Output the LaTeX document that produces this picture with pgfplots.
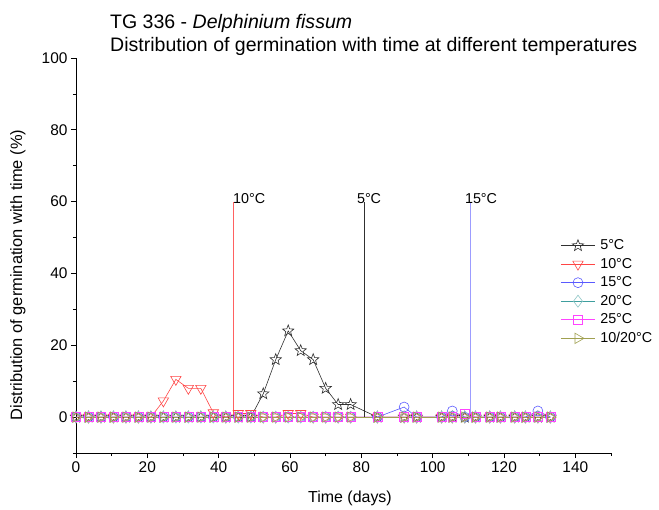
\documentclass[border=0pt]{standalone}
\usepackage{fontspec}
\setmainfont{Liberation Sans}
\usepackage{pgfplots}
\usepackage{pgfplotstable}
\pgfplotsset{compat=1.18}

\definecolor{c5}{HTML}{303030}
\definecolor{c10}{HTML}{FF4545}
\definecolor{c15}{HTML}{5A5AFF}
\definecolor{c20}{HTML}{3E9E9E}
\definecolor{c25}{HTML}{FF44FF}
\definecolor{c1020}{HTML}{A0A050}

% open five-pointed star
\pgfdeclareplotmark{ostar}{%
  \pgfpathmoveto{\pgfpointpolar{90}{\pgfplotmarksize}}%
  \pgfpathlineto{\pgfpointpolar{126}{0.42\pgfplotmarksize}}%
  \pgfpathlineto{\pgfpointpolar{162}{\pgfplotmarksize}}%
  \pgfpathlineto{\pgfpointpolar{198}{0.42\pgfplotmarksize}}%
  \pgfpathlineto{\pgfpointpolar{234}{\pgfplotmarksize}}%
  \pgfpathlineto{\pgfpointpolar{270}{0.42\pgfplotmarksize}}%
  \pgfpathlineto{\pgfpointpolar{306}{\pgfplotmarksize}}%
  \pgfpathlineto{\pgfpointpolar{342}{0.42\pgfplotmarksize}}%
  \pgfpathlineto{\pgfpointpolar{18}{\pgfplotmarksize}}%
  \pgfpathlineto{\pgfpointpolar{54}{0.42\pgfplotmarksize}}%
  \pgfpathclose
  \pgfusepathqstroke}

% days, then % germination per series
\pgfplotstableread{
x     s5    s10   s15   s20  s25  s1020
0     0     0     0     0    0    0
3.5   0     0     0     0    0    0
7     0     0     0     0    0    0
10.5  0     0     0     0    0    0
14    0     0     0     0    0    0
17.5  0     0     0     0    0    0
21    0     0     0     0    0    0
24.5  0     4.5   0     0    0    0
28    0     10.5  0     0    0    0
31.5  0     8     0     0    0    0
35    0     8     0     0    0    0
38.5  0     1.2   0     0    0    0
42    0     0     0     0    0    0
45.5  0     1     0     0    0    0
49    0     1     0     0    0    0
52.5  6.5   0     0     0    0    0
56    16    0     0     0    0    0
59.5  24    1     0     0    0    0
63    18.5  1     0     0    0    0
66.5  16    0     0     0    0    0
70    8     0     0     0    0    0
73.5  3.5   0     0     0    0    0
77    3.5   0     0     0    0    0
84.5  0     0     0     0    0    0
92    0     0     2.8   0    0    0
95.5  0     0     0     0    0    0
102.5 0     0     0     0    0    0
105.5 0     0     1.7   0    0    0
109   0     0     0     0    1    0
112   0     0     0     0    0    0
116   0     0     0     0    0    0
119   0     0     0     0    0    0
123   0     0     0     0    0    0
126   0     0     0     0    0    0
129.5 0     0     1.7   0    0    0
133   0     0     0     0    0    0
}\germ

\begin{document}
\begin{tikzpicture}
\path[use as bounding box] (-76bp,-57bp) rectangle (583bp,453bp);
\begin{axis}[
    at={(0,0)}, anchor=south west,
    width=535bp, height=395bp, scale only axis,
    xmin=0, xmax=150, ymin=-10, ymax=100,
    axis lines=left,
    axis line style={-, line width=0.9pt},
    xtick={0,20,...,140}, minor xtick={10,30,...,150},
    ytick={0,20,...,100}, minor ytick={-10,10,30,...,90},
    tick align=outside,
    major tick length=5bp, minor tick length=3bp,
    tick style={line width=0.8pt, black},
    /pgf/number format/assume math mode=true,
    ticklabel style={font=\fontsize{15.5}{18}\selectfont},
    every axis plot/.append style={line width=0.6pt},
    legend style={at={(0.90,0.55)}, anchor=north west, draw=none, fill=none,
        font=\fontsize{14.4}{17}\selectfont, row sep=3bp,
        /tikz/every odd column/.append style={column sep=3bp}},
    legend cell align=left,
    legend image code/.code={\draw[mark repeat=2, mark phase=2]
        plot coordinates {(0bp,0bp) (17bp,0bp) (34bp,0bp)};},
]
\addplot[c5, mark=ostar, mark size=6pt, mark options={solid}] table[x=x, y=s5] {\germ};
\addlegendentry{5°C}
\addplot[c10, mark=triangle, mark size=6pt, mark options={rotate=180, fill=none}] table[x=x, y=s10] {\germ};
\addlegendentry{10°C}
\addplot[c15, mark=o, mark size=5pt, mark options={fill=none}] table[x=x, y=s15] {\germ};
\addlegendentry{15°C}
\addplot[c20, mark=diamond, mark size=6pt, mark options={fill=none, draw=c20!60}] table[x=x, y=s20] {\germ};
\addlegendentry{20°C}
\addplot[c25, mark=square, mark size=4.5pt, mark options={fill=none}] table[x=x, y=s25] {\germ};
\addlegendentry{25°C}
\addplot[c1020, mark=triangle, mark size=6pt, mark options={rotate=-90, fill=none}] table[x=x, y=s1020] {\germ};
\addlegendentry{10/20°C}

% temperature change markers
\addplot[c10!85, line width=0.6pt, forget plot] coordinates {(44,0) (44,60)};
\addplot[c5, line width=0.6pt, forget plot] coordinates {(80.7,0) (80.7,60)};
\addplot[c15!60, line width=1pt, forget plot] coordinates {(110.7,0) (110.7,60)};
\node[anchor=south west, inner sep=0pt, font=\fontsize{14.4}{17}\selectfont] at (axis cs:44,59.3) {10°C};
\node[anchor=south west, inner sep=0pt, font=\fontsize{14.4}{17}\selectfont, xshift=-7bp] at (axis cs:80.7,59.3) {5°C};
\node[anchor=south west, inner sep=0pt, font=\fontsize{14.4}{17}\selectfont, xshift=-6bp] at (axis cs:110.7,59.3) {15°C};
\end{axis}
\node[rotate=90, font=\fontsize{16.5}{19}\selectfont] at (-58bp,178bp) {Distribution of germination with time (\%)};
\node[font=\fontsize{16}{19}\selectfont] at (274bp,-45bp) {Time (days)};
\node[anchor=base west, inner sep=0pt, font=\fontsize{19.6}{23}\selectfont] at (34bp,424bp) {TG 336 - \textit{Delphinium fissum}};
\node[anchor=base west, inner sep=0pt, font=\fontsize{19.6}{23}\selectfont] at (34bp,401bp) {Distribution of germination with time at different temperatures};
\end{tikzpicture}
\end{document}
